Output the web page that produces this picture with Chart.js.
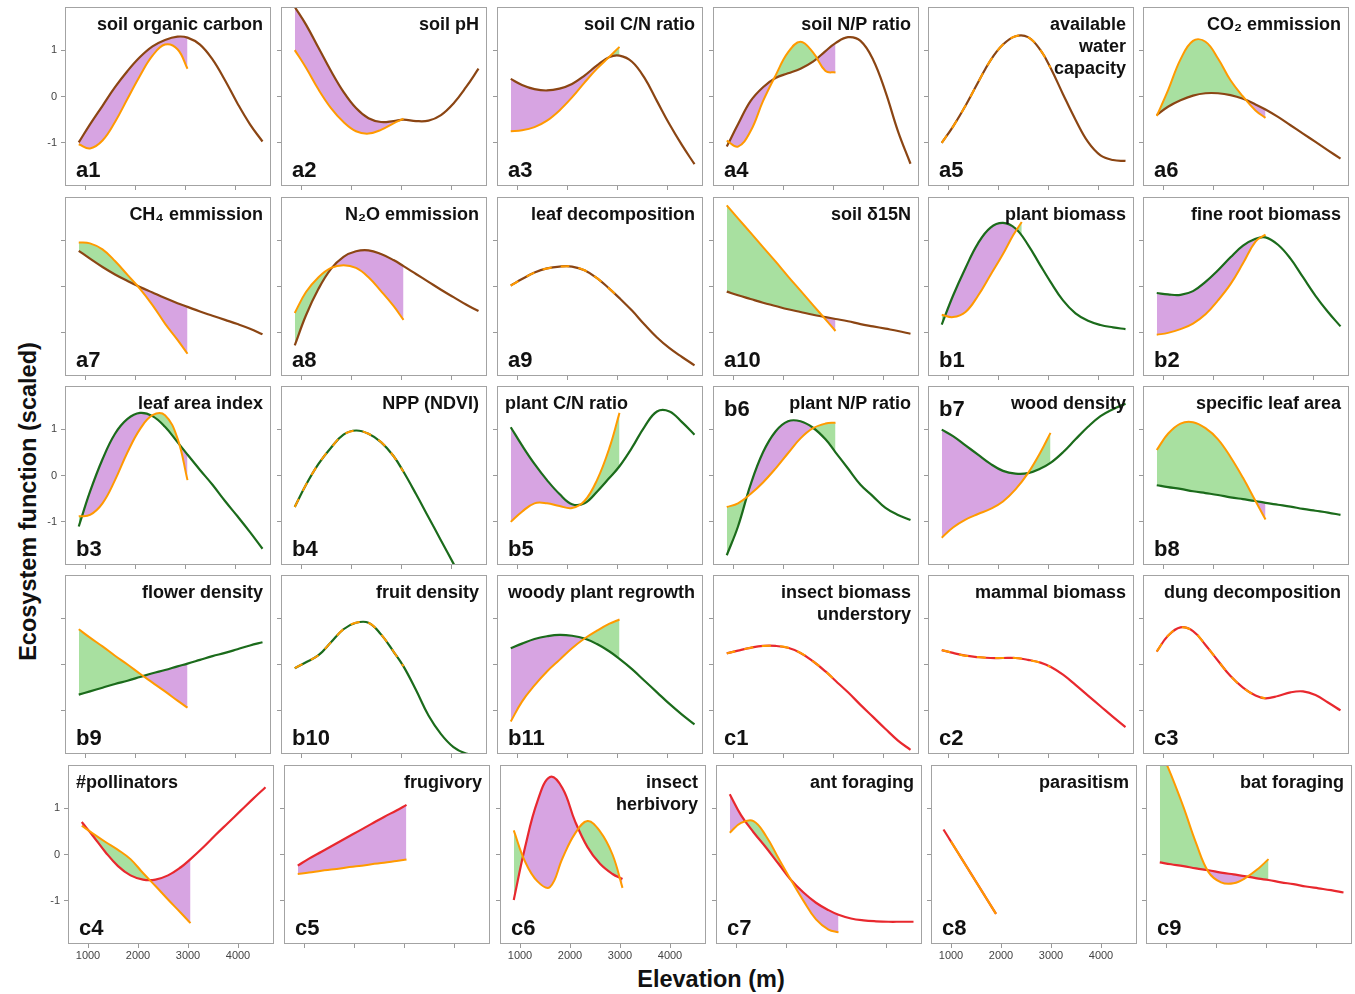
<!DOCTYPE html>
<html>
<head>
<meta charset="utf-8">
<script src="https://cdn.jsdelivr.net/npm/chart.js@4.4.0/dist/chart.umd.min.js"></script>
<style>
  body { margin: 0; background: #fff; width: 1355px; height: 994px; position: relative; overflow: hidden;
         font-family: "Liberation Sans", Arial, sans-serif; }
  canvas { position: absolute; }
  .title { position: absolute; font-weight: bold; font-size: 18px; line-height: 22px; color: #111; white-space: pre; text-align: right; }
  .tag { position: absolute; font-weight: bold; font-size: 22px; line-height: 24px; color: #111; }
  #ytitle { position: absolute; left: -172px; top: 488px; width: 400px; text-align: center; transform: rotate(-90deg);
            font-weight: bold; font-size: 23.5px; color: #111; }
  #xtitle { position: absolute; left: 511px; top: 966px; width: 400px; text-align: center;
            font-weight: bold; font-size: 23.5px; color: #111; }
</style>
</head>
<body>
<div id="ytitle">Ecosystem function (scaled)</div>
<div id="xtitle">Elevation (m)</div>
<script>
//elevation grid (m) the curves were read at
const elevation = [875, 1100, 1350, 1600, 1850, 2100, 2350, 2600, 2850, 3050, 3300, 3550, 3800, 4050, 4300, 4550];
const b1SubElevation = [875, 1100, 1350, 1600, 1850, 2100, 2300, 2475];
const c8Elevation = [850, 1900];
const xTicks = [1000, 2000, 3000, 4000];
const yTicks = [-1, 0, 1];

const panelIds = ["a1", "a2", "a3", "a4", "a5", "a6",
                  "a7", "a8", "a9", "a10", "b1", "b2",
                  "b3", "b4", "b5", "b6", "b7", "b8",
                  "b9", "b10", "b11", "c1", "c2", "c3",
                  "c4", "c5", "c6", "c7", "c8", "c9"];
const panelTitles = ["soil organic carbon", "soil pH", "soil C/N ratio", "soil N/P ratio", "available\nwater\ncapacity", "CO\u2082 emmission",
                     "CH\u2084 emmission", "N\u2082O emmission", "leaf decomposition", "soil \u03b415N", "plant biomass", "fine root biomass",
                     "leaf area index", "NPP (NDVI)", "plant C/N ratio", "plant N/P ratio", "wood density", "specific leaf area",
                     "flower density", "fruit density", "woody plant regrowth", "insect biomass\nunderstory", "mammal biomass", "dung decomposition",
                     "#pollinators", "frugivory", "insect\nherbivory", "ant foraging", "parasitism", "bat foraging"];

//main curve (brown / green / red) and orange curve of every panel, scaled units
const a1Main = [-0.99, -0.6, -0.2, 0.2, 0.55, 0.85, 1.08, 1.22, 1.29, 1.27, 1.12, 0.8, 0.35, -0.15, -0.6, -0.97];
const a1Sub = [-1.03, -1.12, -0.95, -0.55, -0.05, 0.45, 0.88, 1.12, 1.02, 0.6];
const a2Main = [1.93, 1.55, 1.05, 0.55, 0.1, -0.25, -0.47, -0.55, -0.53, -0.5, -0.53, -0.52, -0.4, -0.15, 0.2, 0.6];
const a2Sub = [1.0, 0.62, 0.15, -0.25, -0.55, -0.75, -0.8, -0.72, -0.58, -0.48];
const a3Main = [0.38, 0.25, 0.16, 0.13, 0.17, 0.27, 0.45, 0.67, 0.85, 0.88, 0.75, 0.4, -0.1, -0.6, -1.05, -1.46];
const a3Sub = [-0.75, -0.73, -0.66, -0.52, -0.3, -0.02, 0.3, 0.6, 0.86, 1.07];
const a4Main = [-1.08, -0.6, -0.1, 0.2, 0.4, 0.5, 0.6, 0.75, 0.98, 1.15, 1.28, 1.2, 0.8, 0.1, -0.75, -1.45];
const a4Sub = [-0.95, -1.08, -0.75, -0.1, 0.45, 0.95, 1.18, 0.95, 0.55, 0.52];
const a5Main = [-1.0, -0.65, -0.2, 0.3, 0.78, 1.12, 1.3, 1.28, 1.0, 0.62, 0.05, -0.5, -0.98, -1.27, -1.37, -1.39];
const a5Sub = a5Main.slice(0, 10);
const a6Main = [-0.4, -0.22, -0.08, 0.02, 0.07, 0.07, 0.03, -0.05, -0.17, -0.28, -0.44, -0.62, -0.8, -0.98, -1.16, -1.34];
const a6Sub = [-0.42, 0.13, 0.8, 1.2, 1.18, 0.82, 0.35, 0.0, -0.3, -0.46];
const a7Main = [0.77, 0.6, 0.42, 0.26, 0.12, -0.01, -0.13, -0.25, -0.36, -0.44, -0.54, -0.63, -0.72, -0.81, -0.91, -1.03];
const a7Sub = [0.95, 0.93, 0.8, 0.55, 0.25, -0.05, -0.4, -0.8, -1.15, -1.45];
const a8Main = [-1.27, -0.62, -0.05, 0.38, 0.64, 0.76, 0.78, 0.7, 0.57, 0.44, 0.27, 0.1, -0.07, -0.23, -0.39, -0.53];
const a8Sub = [-0.57, -0.12, 0.2, 0.4, 0.46, 0.4, 0.2, -0.1, -0.42, -0.72];
const a9Main = [0.02, 0.16, 0.3, 0.39, 0.43, 0.43, 0.35, 0.18, -0.05, -0.25, -0.52, -0.82, -1.1, -1.33, -1.52, -1.7];
const a9Sub = a9Main.slice(0, 10);
const a10Main = [-0.11, -0.19, -0.27, -0.35, -0.42, -0.49, -0.55, -0.61, -0.66, -0.7, -0.75, -0.81, -0.86, -0.91, -0.96, -1.02];
const a10Sub = [1.75, 1.47, 1.16, 0.85, 0.54, 0.22, -0.09, -0.4, -0.71, -0.96];
const b1Main = [-0.82, -0.2, 0.4, 0.93, 1.27, 1.37, 1.25, 0.9, 0.45, 0.1, -0.3, -0.58, -0.74, -0.83, -0.88, -0.92];
const b1Sub = [-0.61, -0.66, -0.55, -0.2, 0.25, 0.7, 1.1, 1.39];
const b2Main = [-0.14, -0.17, -0.18, -0.1, 0.1, 0.35, 0.63, 0.88, 1.03, 1.06, 0.9, 0.6, 0.2, -0.2, -0.55, -0.86];
const b2Sub = [-1.04, -1.0, -0.92, -0.8, -0.6, -0.3, 0.05, 0.5, 0.97, 1.12];
const b3Main = [-1.1, -0.35, 0.35, 0.9, 1.22, 1.35, 1.28, 1.05, 0.72, 0.45, 0.12, -0.2, -0.55, -0.88, -1.22, -1.58];
const b3Sub = [-0.88, -0.85, -0.6, -0.1, 0.5, 1.0, 1.3, 1.3, 0.8, -0.1];
const b4Main = [-0.68, -0.2, 0.25, 0.6, 0.88, 0.97, 0.9, 0.72, 0.42, 0.08, -0.4, -0.9, -1.4, -1.9, -2.4, -3.0];
const b4Sub = b4Main.slice(0, 10);
const b5Main = [1.04, 0.65, 0.25, -0.1, -0.4, -0.62, -0.6, -0.35, -0.05, 0.2, 0.6, 1.05, 1.38, 1.38, 1.15, 0.88];
const b5Sub = [-1.0, -0.78, -0.6, -0.6, -0.66, -0.7, -0.55, -0.1, 0.6, 1.35];
const b6Main = [-1.72, -1.1, -0.2, 0.5, 0.95, 1.17, 1.17, 1.03, 0.78, 0.5, 0.15, -0.2, -0.45, -0.7, -0.85, -0.96];
const b6Sub = [-0.68, -0.6, -0.4, -0.15, 0.15, 0.48, 0.8, 1.02, 1.12, 1.14];
const b7Main = [0.99, 0.85, 0.65, 0.45, 0.25, 0.1, 0.04, 0.05, 0.15, 0.27, 0.5, 0.78, 1.05, 1.28, 1.43, 1.55];
const b7Sub = [-1.34, -1.12, -0.95, -0.83, -0.72, -0.56, -0.3, 0.05, 0.5, 0.92];
const b8Main = [-0.21, -0.25, -0.29, -0.34, -0.38, -0.42, -0.47, -0.51, -0.55, -0.59, -0.63, -0.67, -0.72, -0.76, -0.8, -0.85];
const b8Sub = [0.55, 0.9, 1.12, 1.15, 1.02, 0.78, 0.4, -0.05, -0.55, -0.95];
const b9Main = [-0.65, -0.58, -0.5, -0.42, -0.35, -0.27, -0.19, -0.12, -0.04, 0.02, 0.1, 0.18, 0.25, 0.33, 0.41, 0.48];
const b9Sub = [0.76, 0.58, 0.39, 0.19, 0.0, -0.2, -0.39, -0.58, -0.78, -0.93];
const b10Main = [-0.08, 0.05, 0.2, 0.48, 0.76, 0.9, 0.9, 0.65, 0.28, -0.04, -0.55, -1.1, -1.5, -1.78, -1.92, -1.95];
const b10Sub = b10Main.slice(0, 10);
const b11Main = [0.35, 0.45, 0.55, 0.61, 0.64, 0.62, 0.56, 0.44, 0.28, 0.12, -0.1, -0.35, -0.6, -0.85, -1.08, -1.29];
const b11Sub = [-1.23, -0.8, -0.45, -0.15, 0.1, 0.35, 0.56, 0.73, 0.88, 0.97];
const c1Main = [0.24, 0.3, 0.36, 0.4, 0.4, 0.36, 0.25, 0.07, -0.15, -0.35, -0.6, -0.87, -1.13, -1.39, -1.64, -1.84];
const c1Sub = c1Main.slice(0, 10);
const c2Main = [0.31, 0.25, 0.19, 0.16, 0.14, 0.14, 0.14, 0.1, 0.04, -0.05, -0.22, -0.44, -0.67, -0.9, -1.13, -1.35];
const c2Sub = c2Main.slice(0, 10);
const c3Main = [0.28, 0.62, 0.8, 0.72, 0.42, 0.08, -0.25, -0.5, -0.67, -0.73, -0.68, -0.6, -0.58, -0.66, -0.82, -0.99];
const c3Sub = c3Main.slice(0, 10);
const c4Main = [0.7, 0.4, 0.05, -0.25, -0.45, -0.54, -0.54, -0.45, -0.28, -0.1, 0.15, 0.42, 0.68, 0.94, 1.2, 1.45];
const c4Sub = [0.62, 0.45, 0.27, 0.1, -0.1, -0.4, -0.68, -0.97, -1.25, -1.48];
const c5Main = [-0.24, -0.09, 0.06, 0.21, 0.36, 0.51, 0.66, 0.81, 0.95, 1.07];
const c5Sub = [-0.42, -0.39, -0.35, -0.32, -0.28, -0.25, -0.21, -0.18, -0.14, -0.11];
const c6Main = [-0.98, 0.15, 1.15, 1.67, 1.43, 0.72, 0.16, -0.2, -0.42, -0.53];
const c6Sub = [0.52, -0.15, -0.58, -0.7, -0.08, 0.45, 0.72, 0.5, 0.0, -0.72];
const c7Main = [1.3, 0.85, 0.48, 0.15, -0.2, -0.55, -0.82, -1.04, -1.2, -1.3, -1.38, -1.42, -1.44, -1.45, -1.45, -1.45];
const c7Sub = [0.47, 0.68, 0.72, 0.4, -0.08, -0.55, -1.0, -1.4, -1.62, -1.68];
const c8Main = [0.54, -1.28];
const c8Sub = [0.54, -1.28];
const c9Main = [-0.17, -0.21, -0.25, -0.3, -0.34, -0.39, -0.43, -0.47, -0.52, -0.55, -0.6, -0.64, -0.69, -0.73, -0.77, -0.82];
const c9Sub = [2.3, 1.72, 1.02, 0.25, -0.38, -0.6, -0.62, -0.5, -0.3, -0.1];

const mainSeries = [a1Main, a2Main, a3Main, a4Main, a5Main, a6Main, a7Main, a8Main, a9Main, a10Main, b1Main, b2Main,
                    b3Main, b4Main, b5Main, b6Main, b7Main, b8Main, b9Main, b10Main, b11Main, c1Main, c2Main, c3Main,
                    c4Main, c5Main, c6Main, c7Main, c8Main, c9Main];
const subSeries = [a1Sub, a2Sub, a3Sub, a4Sub, a5Sub, a6Sub, a7Sub, a8Sub, a9Sub, a10Sub, b1Sub, b2Sub,
                   b3Sub, b4Sub, b5Sub, b6Sub, b7Sub, b8Sub, b9Sub, b10Sub, b11Sub, c1Sub, c2Sub, c3Sub,
                   c4Sub, c5Sub, c6Sub, c7Sub, c8Sub, c9Sub];

//panels where the orange curve lies on top of the main one
const overlaid = ["a5", "a9", "b4", "b10", "c1", "c2", "c3", "c8"];
const leftTitles = ["b5", "c4"];
const topTags = ["b6", "b7"];
const yLabelPanels = ["a1", "b3", "c4"];
const xLabelPanels = ["c4", "c6", "c8"];

const lineColors = { a: "#8b4513", b: "#1b6b1b", c: "#e8282e" };
const ORANGE = "#ff9a00";
const cols = [65, 281, 497, 713, 928, 1143];
const rows = [7, 197, 386, 575, 765];
const W = 206, H = 179, LEFT = 40, BOTTOM = 24;

//frame around each panel
const boxPlugin = {
  id: "box",
  afterDraw(chart) {
    const { ctx, chartArea: a } = chart;
    ctx.save();
    ctx.strokeStyle = "#a3a3a3";
    ctx.lineWidth = 1;
    ctx.strokeRect(a.left + 0.5, a.top + 0.5, a.width - 1, a.height - 1);
    ctx.restore();
  },
};

function toPoints(xs, ys) {
  return ys.map((y, i) => ({ x: xs[i], y: y }));
}

//keep the plot area fixed whatever labels are shown
function fixX(s) {
  s.height = BOTTOM;
  s.paddingLeft = 0;
  s.paddingRight = 0;
}
function fixY(s) {
  s.width = LEFT;
  s.paddingTop = 0;
  s.paddingBottom = 0;
}

panelIds.forEach((id, k) => {
  const r = Math.floor(k / 6);
  const c = k % 6;
  const L = cols[c] + (r === 4 ? 3 : 0);
  const T = rows[r];

  const canvas = document.createElement("canvas");
  canvas.width = W + LEFT;
  canvas.height = H + BOTTOM;
  canvas.style.left = L - LEFT + "px";
  canvas.style.top = T + "px";
  document.body.appendChild(canvas);

  const mainX = id === "c8" ? c8Elevation : elevation;
  const subX = id === "c8" ? c8Elevation : id === "b1" ? b1SubElevation : elevation;
  const isOver = overlaid.includes(id);

  new Chart(canvas, {
    type: "line",
    data: {
      datasets: [
        {
          data: toPoints(mainX, mainSeries[k]),
          borderColor: lineColors[id[0]],
          borderWidth: 2.2,
          pointRadius: 0,
          tension: 0.4,
          fill: false,
          order: 1,
        },
        {
          data: toPoints(subX, subSeries[k]),
          borderColor: ORANGE,
          borderWidth: 2,
          pointRadius: 0,
          tension: 0.4,
          order: 0,
          borderDash: isOver ? (id === "c8" ? [0, 14, 400, 0] : [9, 9]) : [],
          fill: isOver ? false : { target: 0, above: "#a8e0a0", below: "#d7a4e2" },
        },
      ],
    },
    options: {
      responsive: false,
      animation: false,
      devicePixelRatio: 1,
      events: [],
      layout: { padding: 0 },
      plugins: {
        legend: { display: false },
        tooltip: { enabled: false },
        filler: { drawTime: "beforeDatasetsDraw" },
      },
      scales: {
        x: {
          type: "linear",
          min: 600,
          max: 4720,
          afterBuildTicks: (s) => { s.ticks = xTicks.map((v) => ({ value: v })); },
          afterFit: fixX,
          grid: { drawOnChartArea: false, tickLength: 4, color: "#999" },
          border: { display: false },
          ticks: {
            display: xLabelPanels.includes(id),
            padding: 1,
            color: "#444",
            font: { size: 11, family: "Liberation Sans" },
            maxRotation: 0,
            callback: (v) => String(v),
          },
        },
        y: {
          min: -1.93,
          max: 1.93,
          afterBuildTicks: (s) => { s.ticks = yTicks.map((v) => ({ value: v })); },
          afterFit: fixY,
          grid: { drawOnChartArea: false, tickLength: 4, color: "#999" },
          border: { display: false },
          ticks: {
            display: yLabelPanels.includes(id),
            padding: 4,
            color: "#444",
            font: { size: 11, family: "Liberation Sans" },
            callback: (v) => String(v),
          },
        },
      },
    },
    plugins: [boxPlugin],
  });

  //panel title
  const title = document.createElement("div");
  title.className = "title";
  title.textContent = panelTitles[k];
  title.style.top = T + 6 + "px";
  if (leftTitles.includes(id)) {
    title.style.left = L + 8 + "px";
    title.style.textAlign = "left";
  } else {
    title.style.right = 1355 - (L + W - 8) + "px";
  }
  document.body.appendChild(title);

  //panel tag (a1, b2 ...)
  const tag = document.createElement("div");
  tag.className = "tag";
  tag.textContent = id;
  tag.style.left = L + 11 + "px";
  tag.style.top = (topTags.includes(id) ? T + 11 : T + H - 28) + "px";
  document.body.appendChild(tag);
});
</script>
</body>
</html>
